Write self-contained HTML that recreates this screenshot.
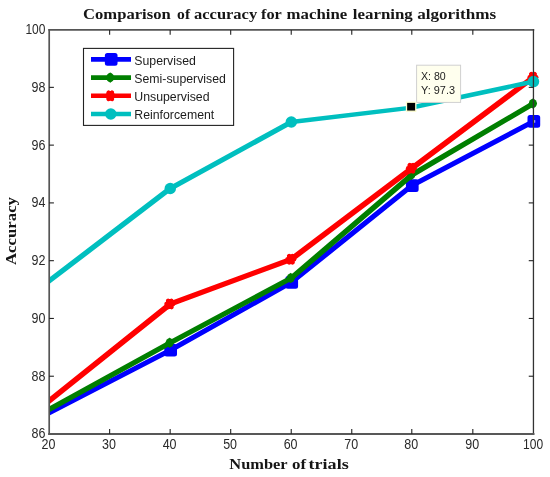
<!DOCTYPE html>
<html lang="en">
<head>
<meta charset="utf-8">
<title>Comparison of accuracy for machine learning algorithms</title>
<style>
html,body{margin:0;padding:0;background:#fff;}
body{width:550px;height:477px;overflow:hidden;}
svg{display:block;}
.tick{font-family:"Liberation Sans",sans-serif;font-size:14px;fill:#2a2a2a;}
.leg{font-family:"Liberation Sans",sans-serif;font-size:12.3px;fill:#1c1c1c;}
.ttl{font-family:"Liberation Serif",serif;font-weight:bold;font-size:15.3px;fill:#151515;}
.tip{font-family:"Liberation Sans",sans-serif;font-size:10.6px;fill:#222;}
</style>
</head>
<body>
<svg width="550" height="477" viewBox="0 0 550 477">
<rect x="0" y="0" width="550" height="477" fill="#ffffff"/>

<defs><clipPath id="ax"><rect x="49.2" y="29.9" width="484.25000000000006" height="404.1"/></clipPath></defs>
<g class="ttl">
<text x="83.1" y="18.5" textLength="87.6" lengthAdjust="spacingAndGlyphs">Comparison</text>
<text x="177.1" y="18.5" textLength="13.0" lengthAdjust="spacingAndGlyphs">of</text>
<text x="194.0" y="18.5" textLength="63.2" lengthAdjust="spacingAndGlyphs">accuracy</text>
<text x="261.0" y="18.5" textLength="20.8" lengthAdjust="spacingAndGlyphs">for</text>
<text x="286.6" y="18.5" textLength="60.6" lengthAdjust="spacingAndGlyphs">machine</text>
<text x="352.8" y="18.5" textLength="60.0" lengthAdjust="spacingAndGlyphs">learning</text>
<text x="417.2" y="18.5" textLength="78.9" lengthAdjust="spacingAndGlyphs">algorithms</text>
</g>
<g class="ttl">
<text x="229.3" y="468.8" textLength="58.3" lengthAdjust="spacingAndGlyphs">Number</text>
<text x="292.1" y="468.8" textLength="14.1" lengthAdjust="spacingAndGlyphs">of</text>
<text x="308.6" y="468.8" textLength="40.1" lengthAdjust="spacingAndGlyphs">trials</text>
</g>
<text class="ttl" transform="translate(16.3 231.0) rotate(-90)" text-anchor="middle" textLength="68" lengthAdjust="spacingAndGlyphs">Accuracy</text>
<g clip-path="url(#ax)" fill="none" stroke-linecap="round">
<line x1="43.15" y1="416.05" x2="170.26" y2="350.23" stroke="#0000ff" stroke-width="4.98"/>
<line x1="170.26" y1="350.23" x2="291.33" y2="282.34" stroke="#0000ff" stroke-width="5.02"/>
<line x1="291.33" y1="282.34" x2="411.89" y2="185.57" stroke="#0000ff" stroke-width="5.17"/>
<line x1="411.89" y1="185.57" x2="533.45" y2="121.44" stroke="#0000ff" stroke-width="4.99"/>
</g>
<rect x="166.81" y="346.38" width="7.7" height="7.7" fill="#0000ff" stroke="#0000ff" stroke-width="5" stroke-linejoin="round"/>
<rect x="287.88" y="278.49" width="7.7" height="7.7" fill="#0000ff" stroke="#0000ff" stroke-width="5" stroke-linejoin="round"/>
<rect x="408.44" y="181.72" width="7.7" height="7.7" fill="#0000ff" stroke="#0000ff" stroke-width="5" stroke-linejoin="round"/>
<rect x="530.00" y="117.59" width="7.7" height="7.7" fill="#0000ff" stroke="#0000ff" stroke-width="5" stroke-linejoin="round"/>
<g clip-path="url(#ax)" fill="none" stroke-linecap="round">
<line x1="43.15" y1="412.78" x2="170.26" y2="342.72" stroke="#007f00" stroke-width="5.21"/>
<line x1="170.26" y1="342.72" x2="291.33" y2="278.01" stroke="#007f00" stroke-width="5.20"/>
<line x1="291.33" y1="278.01" x2="411.89" y2="174.88" stroke="#007f00" stroke-width="5.39"/>
<line x1="411.89" y1="174.88" x2="533.45" y2="103.53" stroke="#007f00" stroke-width="5.25"/>
</g>
<polygon points="169.66,337.42 173.96,342.72 169.66,348.02 165.36,342.72" fill="#007f00"/><ellipse cx="169.66" cy="342.72" rx="4" ry="4.5" fill="#007f00"/>
<polygon points="290.73,272.71 295.03,278.01 290.73,283.31 286.43,278.01" fill="#007f00"/><ellipse cx="290.73" cy="278.01" rx="4" ry="4.5" fill="#007f00"/>
<polygon points="411.29,169.58 415.59,174.88 411.29,180.18 406.99,174.88" fill="#007f00"/><ellipse cx="411.29" cy="174.88" rx="4" ry="4.5" fill="#007f00"/>
<polygon points="532.85,98.23 537.15,103.53 532.85,108.83 528.55,103.53" fill="#007f00"/><ellipse cx="532.85" cy="103.53" rx="4" ry="4.5" fill="#007f00"/>
<g clip-path="url(#ax)" fill="none" stroke-linecap="round">
<line x1="43.15" y1="405.62" x2="170.26" y2="304.01" stroke="#ff0000" stroke-width="5.52"/>
<line x1="170.26" y1="304.01" x2="291.33" y2="259.23" stroke="#ff0000" stroke-width="5.13"/>
<line x1="291.33" y1="259.23" x2="411.89" y2="168.24" stroke="#ff0000" stroke-width="5.50"/>
<line x1="411.89" y1="168.24" x2="533.45" y2="77.25" stroke="#ff0000" stroke-width="5.50"/>
</g>
<rect x="165.96" y="299.11" width="7.6" height="9.8" rx="2.4" fill="#ff0000"/><g stroke="#ff0000" stroke-width="3.9" stroke-linecap="round"><line x1="167.86" y1="300.61" x2="171.66" y2="307.41"/><line x1="167.86" y1="307.41" x2="171.66" y2="300.61"/><line x1="166.46" y1="304.01" x2="173.06" y2="304.01" stroke-width="4.4"/></g>
<rect x="287.03" y="254.33" width="7.6" height="9.8" rx="2.4" fill="#ff0000"/><g stroke="#ff0000" stroke-width="3.9" stroke-linecap="round"><line x1="288.93" y1="255.83" x2="292.73" y2="262.63"/><line x1="288.93" y1="262.63" x2="292.73" y2="255.83"/><line x1="287.53" y1="259.23" x2="294.13" y2="259.23" stroke-width="4.4"/></g>
<rect x="407.59" y="163.34" width="7.6" height="9.8" rx="2.4" fill="#ff0000"/><g stroke="#ff0000" stroke-width="3.9" stroke-linecap="round"><line x1="409.49" y1="164.84" x2="413.29" y2="171.64"/><line x1="409.49" y1="171.64" x2="413.29" y2="164.84"/><line x1="408.09" y1="168.24" x2="414.69" y2="168.24" stroke-width="4.4"/></g>
<rect x="529.15" y="72.35" width="7.6" height="9.8" rx="2.4" fill="#ff0000"/><g stroke="#ff0000" stroke-width="3.9" stroke-linecap="round"><line x1="531.05" y1="73.85" x2="534.85" y2="80.65"/><line x1="531.05" y1="80.65" x2="534.85" y2="73.85"/><line x1="529.65" y1="77.25" x2="536.25" y2="77.25" stroke-width="4.4"/></g>
<g clip-path="url(#ax)" fill="none" stroke-linecap="round">
<line x1="43.15" y1="285.52" x2="170.26" y2="188.46" stroke="#00bfbf" stroke-width="5.26"/>
<line x1="170.26" y1="188.46" x2="291.33" y2="122.02" stroke="#00bfbf" stroke-width="5.11"/>
<line x1="291.33" y1="122.02" x2="411.89" y2="107.58" stroke="#00bfbf" stroke-width="4.38"/>
<line x1="411.89" y1="107.58" x2="533.45" y2="81.58" stroke="#00bfbf" stroke-width="4.59"/>
</g>
<circle cx="170.26" cy="188.46" r="5.75" fill="#00bfbf"/>
<circle cx="291.33" cy="122.02" r="5.75" fill="#00bfbf"/>
<circle cx="533.45" cy="81.58" r="5.75" fill="#00bfbf"/>
<rect x="533.25" y="120.14" width="2" height="2.6" fill="#a8a8ff"/>
<g stroke-linecap="square"><line x1="49.2" y1="29.9" x2="49.2" y2="434.0" stroke="#555" stroke-width="1.7"/><line x1="49.2" y1="29.9" x2="533.45" y2="29.9" stroke="#555" stroke-width="1.6"/><line x1="533.45" y1="29.9" x2="533.45" y2="434.0" stroke="#333" stroke-width="1.3"/><line x1="49.2" y1="434.0" x2="533.45" y2="434.0" stroke="#585858" stroke-width="2"/></g>
<g stroke="#222" stroke-width="1.1"><line x1="109.63" y1="434.0" x2="109.63" y2="429.09999999999997"/><line x1="109.63" y1="29.9" x2="109.63" y2="34.8"/><line x1="170.16" y1="434.0" x2="170.16" y2="429.09999999999997"/><line x1="170.16" y1="29.9" x2="170.16" y2="34.8"/><line x1="230.69" y1="434.0" x2="230.69" y2="429.09999999999997"/><line x1="230.69" y1="29.9" x2="230.69" y2="34.8"/><line x1="291.23" y1="434.0" x2="291.23" y2="429.09999999999997"/><line x1="291.23" y1="29.9" x2="291.23" y2="34.8"/><line x1="351.76" y1="434.0" x2="351.76" y2="429.09999999999997"/><line x1="351.76" y1="29.9" x2="351.76" y2="34.8"/><line x1="411.79" y1="434.0" x2="411.79" y2="429.09999999999997"/><line x1="411.79" y1="29.9" x2="411.79" y2="34.8"/><line x1="472.82" y1="434.0" x2="472.82" y2="429.09999999999997"/><line x1="472.82" y1="29.9" x2="472.82" y2="34.8"/><line x1="49.2" y1="376.23" x2="53.9" y2="376.23"/><line x1="533.45" y1="376.23" x2="528.7500000000001" y2="376.23"/><line x1="49.2" y1="318.45" x2="53.9" y2="318.45"/><line x1="533.45" y1="318.45" x2="528.7500000000001" y2="318.45"/><line x1="49.2" y1="260.68" x2="53.9" y2="260.68"/><line x1="533.45" y1="260.68" x2="528.7500000000001" y2="260.68"/><line x1="49.2" y1="202.90" x2="53.9" y2="202.90"/><line x1="533.45" y1="202.90" x2="528.7500000000001" y2="202.90"/><line x1="49.2" y1="145.13" x2="53.9" y2="145.13"/><line x1="533.45" y1="145.13" x2="528.7500000000001" y2="145.13"/><line x1="49.2" y1="87.36" x2="53.9" y2="87.36"/><line x1="533.45" y1="87.36" x2="528.7500000000001" y2="87.36"/></g>
<text class="tick" x="48.5" y="448.9" text-anchor="middle" textLength="13.9" lengthAdjust="spacingAndGlyphs">20</text>
<text class="tick" x="109.0" y="448.9" text-anchor="middle" textLength="13.9" lengthAdjust="spacingAndGlyphs">30</text>
<text class="tick" x="169.6" y="448.9" text-anchor="middle" textLength="13.9" lengthAdjust="spacingAndGlyphs">40</text>
<text class="tick" x="230.1" y="448.9" text-anchor="middle" textLength="13.9" lengthAdjust="spacingAndGlyphs">50</text>
<text class="tick" x="290.6" y="448.9" text-anchor="middle" textLength="13.9" lengthAdjust="spacingAndGlyphs">60</text>
<text class="tick" x="351.2" y="448.9" text-anchor="middle" textLength="13.9" lengthAdjust="spacingAndGlyphs">70</text>
<text class="tick" x="411.2" y="448.9" text-anchor="middle" textLength="13.9" lengthAdjust="spacingAndGlyphs">80</text>
<text class="tick" x="472.2" y="448.9" text-anchor="middle" textLength="13.9" lengthAdjust="spacingAndGlyphs">90</text>
<text class="tick" x="533.1" y="448.9" text-anchor="middle" textLength="20.0" lengthAdjust="spacingAndGlyphs">100</text>
<text class="tick" x="45.4" y="438.4" text-anchor="end" textLength="13.9" lengthAdjust="spacingAndGlyphs">86</text>
<text class="tick" x="45.4" y="380.6" text-anchor="end" textLength="13.9" lengthAdjust="spacingAndGlyphs">88</text>
<text class="tick" x="45.4" y="322.9" text-anchor="end" textLength="13.9" lengthAdjust="spacingAndGlyphs">90</text>
<text class="tick" x="45.4" y="265.1" text-anchor="end" textLength="13.9" lengthAdjust="spacingAndGlyphs">92</text>
<text class="tick" x="45.4" y="207.3" text-anchor="end" textLength="13.9" lengthAdjust="spacingAndGlyphs">94</text>
<text class="tick" x="45.4" y="149.5" text-anchor="end" textLength="13.9" lengthAdjust="spacingAndGlyphs">96</text>
<text class="tick" x="45.4" y="91.8" text-anchor="end" textLength="13.9" lengthAdjust="spacingAndGlyphs">98</text>
<text class="tick" x="45.4" y="34.0" text-anchor="end" textLength="20.0" lengthAdjust="spacingAndGlyphs">100</text>
<rect x="83.5" y="48.4" width="150.1" height="77" fill="#fff" stroke="#222" stroke-width="1.1"/>
<line x1="91" y1="59.40" x2="131" y2="59.40" stroke="#0000ff" stroke-width="4.6"/>
<rect x="107.35" y="55.55" width="7.7" height="7.7" fill="#0000ff" stroke="#0000ff" stroke-width="5" stroke-linejoin="round"/>
<text class="leg" x="134.3" y="64.50">Supervised</text>
<line x1="91" y1="77.60" x2="131" y2="77.60" stroke="#007f00" stroke-width="4.6"/>
<polygon points="110.20,72.30 114.50,77.60 110.20,82.90 105.90,77.60" fill="#007f00"/><ellipse cx="110.20" cy="77.60" rx="4" ry="4.5" fill="#007f00"/>
<text class="leg" x="134.3" y="82.70">Semi-supervised</text>
<line x1="91" y1="95.80" x2="131" y2="95.80" stroke="#ff0000" stroke-width="4.6"/>
<rect x="106.50" y="90.90" width="7.6" height="9.8" rx="2.4" fill="#ff0000"/><g stroke="#ff0000" stroke-width="3.9" stroke-linecap="round"><line x1="108.40" y1="92.40" x2="112.20" y2="99.20"/><line x1="108.40" y1="99.20" x2="112.20" y2="92.40"/><line x1="107.00" y1="95.80" x2="113.60" y2="95.80" stroke-width="4.4"/></g>
<text class="leg" x="134.3" y="100.90">Unsupervised</text>
<line x1="91" y1="114.00" x2="131" y2="114.00" stroke="#00bfbf" stroke-width="4.6"/>
<circle cx="110.80" cy="114.00" r="5.75" fill="#00bfbf"/>
<text class="leg" x="134.3" y="119.10">Reinforcement</text>
<rect x="416.6" y="65.2" width="44" height="37.2" fill="#ffffee" stroke="#d0d0d0" stroke-width="1"/>
<text class="tip" x="421" y="80">X: 80</text><text class="tip" x="421" y="94" textLength="34" lengthAdjust="spacingAndGlyphs">Y: 97.3</text>
<rect x="406.5" y="102.2" width="9.3" height="9" fill="#000" stroke="#ffffd0" stroke-width="1.3"/>
</svg>
</body>
</html>
